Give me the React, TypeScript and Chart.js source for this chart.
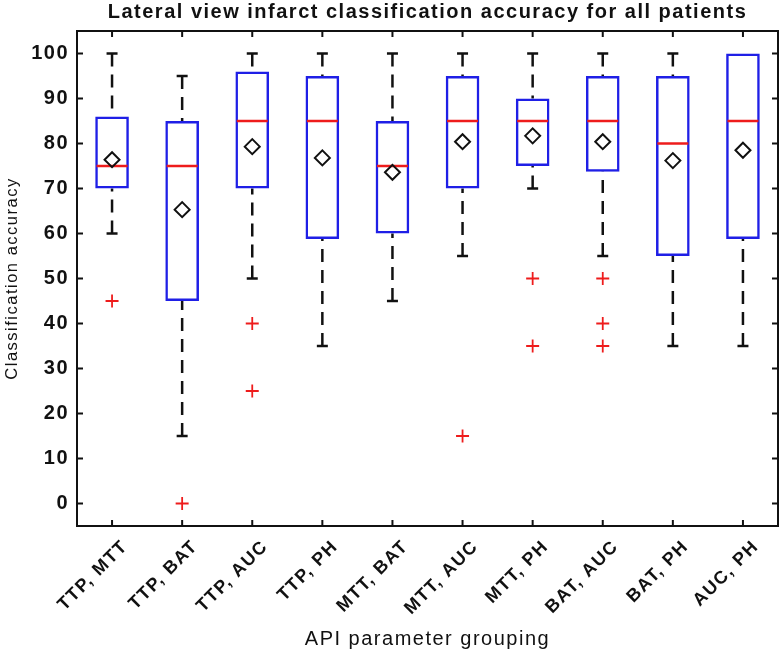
import React, { useEffect, useRef } from 'react';
import { Chart, registerables } from 'chart.js';

Chart.register(...registerables);

const categories = ['TTP, MTT', 'TTP, BAT', 'TTP, AUC', 'TTP, PH', 'MTT, BAT', 'MTT, AUC', 'MTT, PH', 'BAT, AUC', 'BAT, PH', 'AUC, PH'];
const whiskerHigh = [100, 95, 100, 100, 100, 100, 100, 100, 100, 100];
const q3 = [86, 85, 96, 95, 85, 95, 90, 95, 95, 100];
const median = [75, 75, 85, 85, 75, 85, 85, 85, 80, 85];
const q1 = [70, 45, 70, 58.8, 60, 70, 75, 73.7, 55, 58.8];
const whiskerLow = [60, 15, 50, 35, 45, 55, 70, 55, 35, 35];
const means = [76.4, 65.3, 79.3, 76.8, 73.6, 80.4, 81.7, 80.4, 76.2, 78.5];
const outliers = [[45], [0], [40, 25], [], [], [15], [50, 35], [50, 40, 35], [], []];
const yTickValues = [0, 10, 20, 30, 40, 50, 60, 70, 80, 90, 100];

const TITLE = 'Lateral view infarct classification accuracy for all patients';
const X_TITLE = 'API parameter grouping';
const Y_TITLE = 'Classification accuracy';

const FONT = "'Liberation Sans', Arial, Helvetica, sans-serif";
const BLUE = '#1f1fe6';
const RED = '#ee1c1c';
const BLACK = '#111111';

const spacingPlugin = {
  id: 'letterSpacing',
  beforeLayout(chart: any) {
    chart.ctx.letterSpacing = '1.5px';
  },
  beforeDraw(chart: any) {
    chart.ctx.letterSpacing = '1.5px';
  },
};

const framePlugin = {
  id: 'matlabFrame',
  afterDatasetsDraw(chart: any) {
    const { ctx, chartArea: a, scales } = chart;
    ctx.save();
    ctx.strokeStyle = BLACK;
    ctx.lineWidth = 2;
    ctx.strokeRect(a.left, a.top, a.right - a.left, a.bottom - a.top);
    const tl = 6;
    ctx.beginPath();
    scales.y.ticks.forEach((t: any) => {
      const py = scales.y.getPixelForValue(t.value);
      ctx.moveTo(a.left, py);
      ctx.lineTo(a.left + tl, py);
      ctx.moveTo(a.right, py);
      ctx.lineTo(a.right - tl, py);
    });
    scales.x.ticks.forEach((_t: any, i: number) => {
      const px = scales.x.getPixelForTick(i);
      ctx.moveTo(px, a.bottom);
      ctx.lineTo(px, a.bottom - tl);
      ctx.moveTo(px, a.top);
      ctx.lineTo(px, a.top + tl);
    });
    ctx.stroke();
    ctx.restore();
  },
};

export default function App() {
  const ref = useRef<HTMLCanvasElement>(null);

  useEffect(() => {
    if (!ref.current) return;

    const whiskerData: any[] = [];
    const capData: any[] = [];
    categories.forEach((c, i) => {
      if (whiskerHigh[i] !== q3[i]) {
        whiskerData.push({ x: c, y: whiskerHigh[i] }, { x: c, y: q3[i] }, { x: c, y: null });
        capData.push({ x: c, y: whiskerHigh[i] });
      }
      if (whiskerLow[i] !== q1[i]) {
        whiskerData.push({ x: c, y: whiskerLow[i] }, { x: c, y: q1[i] }, { x: c, y: null });
        capData.push({ x: c, y: whiskerLow[i] });
      }
    });
    const outlierData = categories.flatMap((c, i) => outliers[i].map((v) => ({ x: c, y: v })));

    const chart = new Chart(ref.current, {
      type: 'bar',
      data: {
        labels: categories,
        datasets: [
          {
            type: 'line',
            label: 'whiskers',
            data: whiskerData,
            borderColor: BLACK,
            borderWidth: 2.5,
            borderDash: [13, 8],
            pointRadius: 0,
            spanGaps: false,
            fill: false,
            segment: { borderDash: () => [13, 8] },
            order: 6,
          } as any,
          {
            type: 'line',
            label: 'caps',
            data: capData,
            showLine: false,
            pointStyle: 'line',
            pointRadius: 5.5,
            pointBorderWidth: 2.5,
            pointBorderColor: BLACK,
            order: 5,
          } as any,
          {
            type: 'bar',
            label: 'box',
            data: categories.map((_, i) => [q1[i], q3[i]]),
            backgroundColor: 'rgba(0,0,0,0)',
            borderColor: BLUE,
            borderWidth: 2.5,
            borderSkipped: false,
            barPercentage: 0.48,
            categoryPercentage: 1,
            order: 4,
          } as any,
          {
            type: 'line',
            label: 'median',
            data: categories.map((c, i) => ({ x: c, y: median[i] })),
            showLine: false,
            pointStyle: 'line',
            pointRadius: 15.5,
            pointBorderWidth: 2.5,
            pointBorderColor: RED,
            order: 3,
          } as any,
          {
            type: 'line',
            label: 'mean',
            data: categories.map((c, i) => ({ x: c, y: means[i] })),
            showLine: false,
            pointStyle: 'rectRot',
            pointRadius: 7.5,
            pointBorderWidth: 2,
            pointBorderColor: BLACK,
            pointBackgroundColor: 'rgba(0,0,0,0)',
            order: 2,
          } as any,
          {
            type: 'line',
            label: 'outliers',
            data: outlierData,
            showLine: false,
            pointStyle: 'cross',
            pointRadius: 6.5,
            pointBorderWidth: 1.8,
            pointBorderColor: RED,
            order: 1,
          } as any,
        ],
      },
      options: {
        responsive: false,
        animation: false,
        layout: { autoPadding: false, padding: { left: 0, right: 2, top: 0, bottom: 0 } },
        plugins: {
          legend: { display: false },
          tooltip: { enabled: false },
          title: {
            display: true,
            text: TITLE,
            color: BLACK,
            fullSize: false,
            font: { family: FONT, size: 20, weight: 'bold', lineHeight: 1.2 },
            padding: { top: 0, bottom: 7 },
          },
        },
        scales: {
          x: {
            type: 'category',
            offset: true,
            grid: { display: false, drawTicks: false },
            border: { display: false },
            ticks: {
              color: BLACK,
              font: { family: FONT, size: 18, weight: 'bold' },
              minRotation: 45,
              maxRotation: 45,
              autoSkip: false,
              padding: 10,
              labelOffset: 13,
            },
            title: {
              display: true,
              text: X_TITLE,
              color: BLACK,
              font: { family: FONT, size: 20 },
              padding: { top: 0, bottom: 5 },
            },
            afterFit: (scale: any) => {
              scale.height = 130;
              scale.paddingLeft = 0;
              scale.paddingRight = 0;
            },
          },
          y: {
            type: 'linear',
            min: -5,
            max: 105,
            grid: { display: false, drawTicks: false },
            border: { display: false },
            afterBuildTicks: (scale: any) => {
              scale.ticks = yTickValues.map((v) => ({ value: v }));
            },
            ticks: {
              color: BLACK,
              font: { family: FONT, size: 20, weight: 'bold' },
              padding: 8,
            },
            title: {
              display: true,
              text: Y_TITLE,
              color: BLACK,
              font: { family: FONT, size: 16.5 },
              padding: { top: 3, bottom: 0 },
            },
            afterFit: (scale: any) => {
              scale.width = 77;
              scale.paddingTop = 0;
              scale.paddingBottom = 0;
            },
          },
        },
      },
      plugins: [spacingPlugin, framePlugin],
    } as any);

    return () => chart.destroy();
  }, []);

  return (
    <canvas
      ref={ref}
      width={780}
      height={656}
      style={{ position: 'fixed', left: 0, top: 0, display: 'block', background: '#fff' }}
    />
  );
}
